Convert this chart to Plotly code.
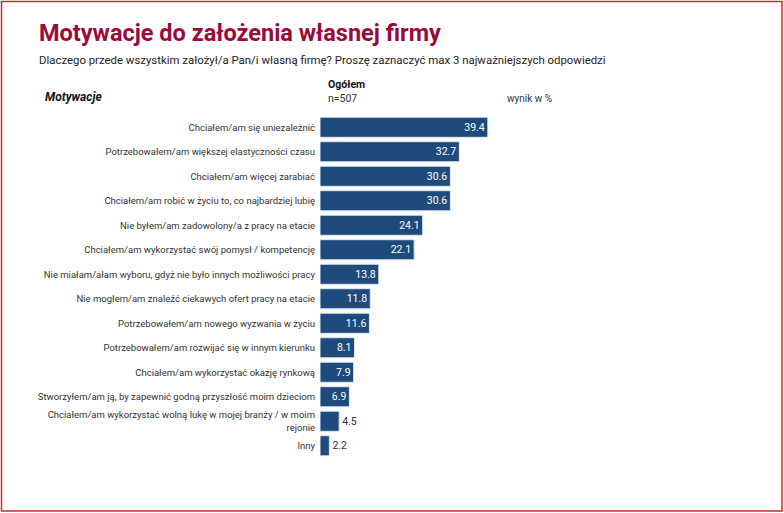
import plotly.graph_objects as go

# Data
motywacje = [
    "Chciałem/am się uniezależnić",
    "Potrzebowałem/am większej elastyczności czasu",
    "Chciałem/am więcej zarabiać",
    "Chciałem/am robić w życiu to, co najbardziej lubię",
    "Nie byłem/am zadowolony/a z pracy na etacie",
    "Chciałem/am wykorzystać swój pomysł / kompetencję",
    "Nie miałam/ałam wyboru, gdyż nie było innych możliwości pracy",
    "Nie mogłem/am znaleźć ciekawych ofert pracy na etacie",
    "Potrzebowałem/am nowego wyzwania w życiu",
    "Potrzebowałem/am rozwijać się w innym kierunku",
    "Chciałem/am wykorzystać okazję rynkową",
    "Stworzyłem/am ją, by zapewnić godną przyszłość moim dzieciom",
    "Chciałem/am wykorzystać wolną lukę w mojej branży / w moim<br>rejonie",
    "Inny",
]
wynik = [39.4, 32.7, 30.6, 30.6, 24.1, 22.1, 13.8, 11.8, 11.6, 8.1, 7.9, 6.9, 4.5, 2.2]

W, H = 784, 513
L, R, T, B = 320, 24, 115, 55
pw, ph = W - L - R, H - T - B

def px(x):
    return (x - L) / pw

def py(y):
    return 1 - (y - T) / ph

bar_color = "#1F4A7C"
positions = ["inside" if v > 6 else "outside" for v in wynik]
text_colors = ["white" if v > 6 else "#333333" for v in wynik]

fig = go.Figure(go.Bar(
    x=wynik,
    y=motywacje,
    orientation="h",
    marker=dict(color=bar_color, line=dict(color="#dfe6ef", width=1)),
    width=0.82,
    text=[f"{v:.1f}" for v in wynik],
    textposition=positions,
    insidetextanchor="end",
    textfont=dict(family="Roboto", size=10.5, color=text_colors),
    cliponaxis=False,
))

fig.update_layout(
    width=W, height=H,
    margin=dict(l=L, r=R, t=T, b=B, autoexpand=False),
    plot_bgcolor="white", paper_bgcolor="white",
    showlegend=False,
    font=dict(family="Roboto", size=10, color="#333333"),
    xaxis=dict(range=[0, pw / 4.26], visible=False, fixedrange=True),
    yaxis=dict(autorange="reversed", showgrid=False, showline=False,
               ticks="", ticklabelstandoff=4, fixedrange=True,
               tickfont=dict(family="Roboto", size=9.5, color="#333333")),
)

fig.add_annotation(x=px(37), y=py(33), xref="paper", yref="paper",
                   text="<b>Motywacje do założenia własnej firmy</b>",
                   showarrow=False, xanchor="left", yanchor="middle",
                   font=dict(family="Roboto", size=23.5, color="#9B0A3A"))
fig.add_annotation(x=px(37), y=py(60), xref="paper", yref="paper",
                   text="Dlaczego przede wszystkim założył/a Pan/i własną firmę? Proszę zaznaczyć max 3 najważniejszych odpowiedzi",
                   showarrow=False, xanchor="left", yanchor="middle",
                   font=dict(family="Roboto", size=11.4, color="#222222"))
fig.add_annotation(x=px(43), y=py(97), xref="paper", yref="paper",
                   text="<b><i>Motywacje</i></b>",
                   showarrow=False, xanchor="left", yanchor="middle",
                   font=dict(family="Roboto", size=12, color="#111111"))
fig.add_annotation(x=px(326), y=py(85), xref="paper", yref="paper",
                   text="<b>Ogółem</b>",
                   showarrow=False, xanchor="left", yanchor="middle",
                   font=dict(family="Roboto", size=10.5, color="#111111"))
fig.add_annotation(x=px(326), y=py(98), xref="paper", yref="paper",
                   text="n=507",
                   showarrow=False, xanchor="left", yanchor="middle",
                   font=dict(family="Roboto", size=10.5, color="#333333"))
fig.add_annotation(x=px(505), y=py(98), xref="paper", yref="paper",
                   text="wynik w %",
                   showarrow=False, xanchor="left", yanchor="middle",
                   font=dict(family="Roboto", size=10, color="#333333"))

# red frame around the whole picture
fig.add_shape(type="rect", xref="paper", yref="paper",
              x0=px(1.5), x1=px(782), y0=py(511), y1=py(1.5),
              line=dict(color="#D0282E", width=1.5), fillcolor="rgba(0,0,0,0)",
              layer="above")

# drop the default 8px page margin so the figure sits at the window corner
fig.write_html("out.html", config={"displayModeBar": False},
               post_script="document.body.style.margin='0';")
